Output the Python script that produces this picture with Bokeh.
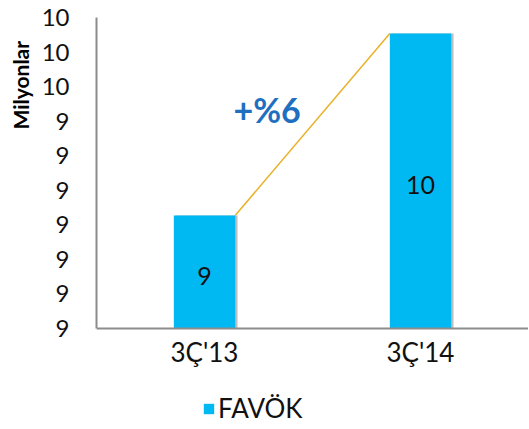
from bokeh.plotting import figure
from bokeh.models import (ColumnDataSource, FixedTicker, CustomJSTickFormatter, Range1d,
                          Legend, LegendItem, Label, Title)
from bokeh.transform import dodge
from bokeh.core.properties import value
from bokeh.embed import file_html
from bokeh.resources import INLINE

# ---- data ----
categories = ["3Ç'13", "3Ç'14"]
favok = [9.127, 9.654]          # milyon
y_ticks = [8.8, 8.9, 9.0, 9.1, 9.2, 9.3, 9.4, 9.5, 9.6, 9.7]
series_name = "FAVÖK"
bar_labels = [str(round(v)) for v in favok]
growth_label = "+%" + str(round((favok[1] / favok[0] - 1) * 100))

FONT = "Lato"
BAR_COLOR = "#00B9F2"
BAR_W = 0.284

y0 = y_ticks[0]
y1 = y_ticks[-1]
# extra room under the axis (inside the frame) for the category labels and legend
px_per_unit = 311 / (y1 - y0)
y_view_start = y0 - 97 / px_per_unit

p = figure(frame_width=432, frame_height=408, x_range=categories,
           y_range=Range1d(y_view_start, y1),
           output_backend="svg", toolbar_location=None,
           min_border_left=10, min_border_right=0, min_border_top=17, min_border_bottom=0)
p.outline_line_color = None
p.xgrid.visible = False
p.ygrid.visible = False
p.background_fill_color = "white"

src = ColumnDataSource(dict(cat=categories, v=favok, base=[y0] * len(favok),
                            mid=[(y0 + v) / 2 for v in favok], lab=bar_labels))

# soft shadow
p.vbar(x=dodge('cat', 0.012, range=p.x_range), top='v', bottom='base', width=BAR_W,
       source=src, fill_color="#000000", fill_alpha=0.18, line_color=None)
p.vbar(x=dodge('cat', 0.006, range=p.x_range), top='v', bottom='base', width=BAR_W + 0.004,
       source=src, fill_color="#000000", fill_alpha=0.10, line_color=None)
bars = p.vbar(x='cat', top='v', bottom='base', width=BAR_W, source=src,
              fill_color=BAR_COLOR, line_color=None)

# connecting line
seg = ColumnDataSource(dict(c0=[categories[0]], c1=[categories[1]], v0=[favok[0]], v1=[favok[1]]))
p.segment(x0=dodge('c0', BAR_W / 2, range=p.x_range), y0='v0',
          x1=dodge('c1', -BAR_W / 2, range=p.x_range), y1='v1',
          source=seg, line_color="#E8B128", line_width=1.5)

# value labels in bars
p.text(x='cat', y='mid', text='lab', source=src, text_align="center", text_baseline="middle",
       y_offset=4, text_font=value(FONT), text_font_size="25px", text_color="#111111")

# growth label
p.add_layout(Label(x=0.79, y=9.435, text=growth_label, text_align="center",
                   text_baseline="middle", text_font=FONT, text_font_size="34px",
                   text_font_style="bold", text_color="#1F6FC1"))

# axes
p.yaxis.ticker = FixedTicker(ticks=y_ticks)
p.yaxis.formatter = CustomJSTickFormatter(code="return Math.round(tick).toString();")
p.yaxis.bounds = (y0, y1)
p.xaxis.fixed_location = y0
for ax in (p.xaxis[0], p.yaxis[0]):
    ax.major_tick_line_color = None
    ax.minor_tick_line_color = None
    ax.major_tick_out = 0
    ax.major_tick_in = 0
    ax.axis_line_color = "#8C8C8C"
    ax.axis_line_width = 2
    ax.major_label_text_font = FONT
    ax.major_label_text_font_size = "24px"
    ax.major_label_text_color = "#111111"
p.xaxis.major_label_text_font_size = "26px"
p.yaxis.major_label_standoff = 27
p.xaxis.major_label_standoff = 7

ytitle = Title(text="Milyonlar", align="left", text_font=FONT, text_font_style="bold",
               text_font_size="21px", text_color="#000000", offset=296, standoff=11)
p.add_layout(ytitle, "left")

legend = Legend(items=[LegendItem(label=series_name, renderers=[bars])],
                orientation="horizontal", location=(106, 1),
                label_text_font=FONT, label_text_font_size="26px", label_text_color="#111111",
                glyph_width=13, glyph_height=13, border_line_color=None,
                background_fill_alpha=0,
                margin=0, padding=0, spacing=4, label_standoff=3)
p.add_layout(legend, "center")

open("out.html", "w").write(file_html(p, INLINE))
